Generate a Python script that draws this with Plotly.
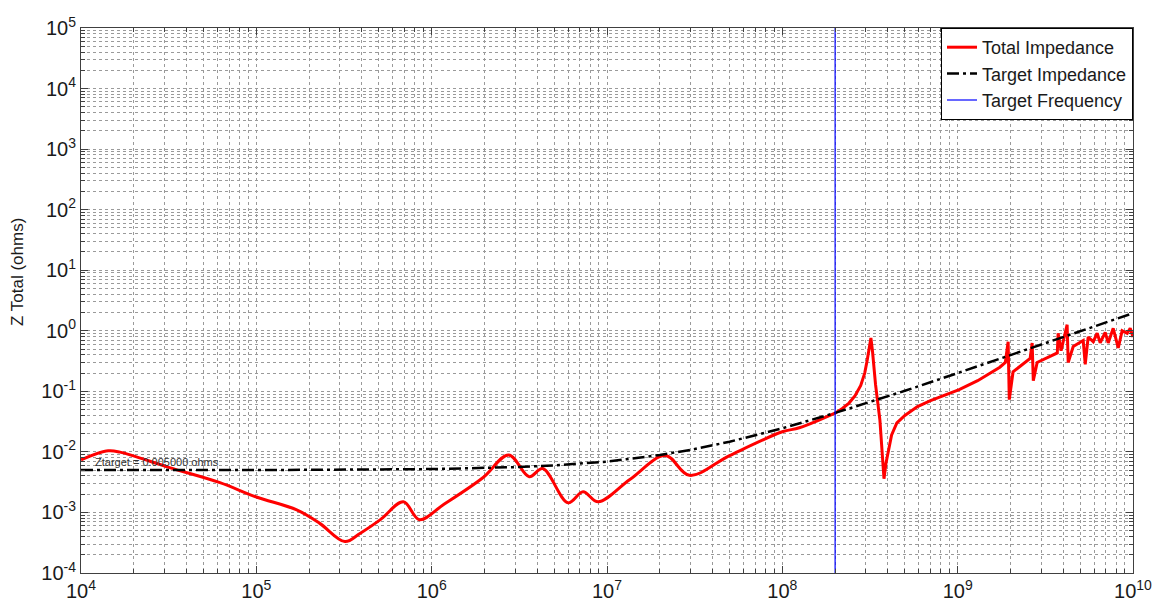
import numpy as np
import plotly.graph_objects as go

# ---- data ----
# Total impedance: smooth low/mid-frequency part
f_total_smooth = [1e4, 1.43e4, 1.67e4, 3.2e4, 6.2e4, 1e5, 1.7e5, 2.3e5, 3.2e5, 3.9e5, 5.1e5,
                  6.9e5, 8.5e5, 1.17e6, 1.95e6, 2.75e6, 3.6e6, 4.3e6, 6.0e6, 7.3e6, 8.9e6,
                  1.35e7, 2.15e7, 2.95e7, 5.0e7, 1e8, 1.25e8, 2.04e8]
z_total_smooth = [0.0074, 0.0104, 0.0099, 0.0055, 0.0031, 0.0018, 0.0011, 0.00066, 0.00033,
                  0.00045, 0.00076, 0.0015, 0.00076, 0.00135, 0.0037, 0.0089, 0.0039, 0.0053,
                  0.00144, 0.0022, 0.0015, 0.0035, 0.0087, 0.0041, 0.0087, 0.0215, 0.025, 0.045]

# Total impedance: resonant / high-frequency part
f_total_hf = [2.04e8, 2.2e8, 2.4e8, 2.6e8, 2.8e8, 2.95e8, 3.05e8, 3.12e8, 3.17e8, 3.2e8,
              3.27e8, 3.4e8, 3.6e8, 3.8e8, 3.9e8, 4.0e8,
              4.2e8, 4.5e8, 5.0e8, 5.9e8, 7.0e8, 1.02e9, 1.3e9, 1.74e9, 1.87e9, 1.94e9, 1.97e9,
              2.07e9, 2.59e9, 2.66e9, 2.70e9, 2.84e9, 3.70e9, 3.74e9, 3.89e9, 4.21e9, 4.27e9,
              4.56e9, 5.20e9, 5.34e9, 5.55e9, 5.93e9, 6.25e9, 6.50e9, 6.94e9, 7.22e9, 7.71e9,
              8.24e9, 8.67e9, 9.27e9, 9.64e9, 1e10]
z_total_hf = [0.045, 0.052, 0.064, 0.085, 0.125, 0.20, 0.33, 0.50, 0.68, 0.76,
              0.45, 0.13, 0.034, 0.0036, 0.0065, 0.0098,
              0.019, 0.030, 0.040, 0.056, 0.070, 0.107, 0.15, 0.25, 0.30, 0.66, 0.073,
              0.21, 0.35, 0.63, 0.15, 0.30, 0.43, 0.91, 0.47, 1.26, 0.30,
              0.55, 0.69, 0.28, 0.79, 0.66, 0.91, 0.63, 0.94, 0.63, 1.1,
              0.52, 1.0, 0.91, 1.1, 0.79]

# Target impedance
f_target = [1e4, 1e5, 1e6, 2e6, 3e6, 5e6, 1e7, 2e7, 3e7, 5e7, 1e8, 2e8, 5e8, 1e9, 2e9, 5e9, 1e10]
z_target = [0.005, 0.005, 0.0052, 0.0054, 0.0056, 0.006, 0.0069, 0.0089, 0.0108, 0.0147,
            0.0245, 0.044, 0.102, 0.20, 0.395, 0.98, 1.95]

# Target frequency
f_marker = 2e8

x_major = [1e4, 1e5, 1e6, 1e7, 1e8, 1e9, 1e10]
x_major_text = ["10<sup>4</sup>", "10<sup>5</sup>", "10<sup>6</sup>", "10<sup>7</sup>",
                "10<sup>8</sup>", "10<sup>9</sup>", "10<sup>10</sup>"]
y_major = [1e-4, 1e-3, 1e-2, 1e-1, 1e0, 1e1, 1e2, 1e3, 1e4, 1e5]
y_major_text = ["10<sup>-4</sup>", "10<sup>-3</sup>", "10<sup>-2</sup>", "10<sup>-1</sup>",
                "10<sup>0</sup>", "10<sup>1</sup>", "10<sup>2</sup>", "10<sup>3</sup>",
                "10<sup>4</sup>", "10<sup>5</sup>"]
x_minor = [m * 10.0 ** k for k in range(4, 10) for m in range(2, 10)]
y_minor = [m * 10.0 ** k for k in range(-4, 5) for m in range(2, 10)]

ztarget_label = "Ztarget = 0.005000 ohms"

# ---- figure ----
FONT = "Liberation Sans, Arial, Helvetica, sans-serif"
fig = go.Figure()

fig.add_trace(go.Scatter(x=f_total_smooth, y=z_total_smooth, mode="lines",
                         name="Total Impedance", legendgroup="tot",
                         line=dict(color="#ff0000", width=3, shape="spline", smoothing=1.0)))
fig.add_trace(go.Scatter(x=f_total_hf, y=z_total_hf, mode="lines",
                         name="Total Impedance", legendgroup="tot", showlegend=False,
                         line=dict(color="#ff0000", width=3)))
fig.add_trace(go.Scatter(x=f_target, y=z_target, mode="lines", name="Target Impedance",
                         line=dict(color="#000000", width=2.5, dash="12px,4px,3px,4px")))
fig.add_trace(go.Scatter(x=[f_marker, f_marker], y=[1e-4, 1e5], mode="lines",
                         name="Target Frequency", line=dict(color="#0000ff", width=1.2)))

grid_col = "#9a9a9a"
axis_common = dict(
    type="log", showline=True, linecolor="#404040", linewidth=1, mirror="ticks",
    ticks="inside", ticklen=7, tickcolor="#404040", automargin=False,
    showgrid=True, gridcolor=grid_col, griddash="dot", gridwidth=1,
    tickfont=dict(family=FONT, size=20, color="#1a1a1a"),
    zeroline=False,
)

fig.update_xaxes(**axis_common, range=[4, 10], tickvals=x_major, ticktext=x_major_text,
                 minor=dict(tickvals=x_minor, ticks="inside", ticklen=4, tickcolor="#404040",
                            showgrid=True, gridcolor=grid_col, griddash="dot", gridwidth=1))
fig.update_yaxes(**axis_common, range=[-4, 5], tickvals=y_major, ticktext=y_major_text,
                 minor=dict(tickvals=y_minor, ticks="inside", ticklen=4, tickcolor="#404040",
                            showgrid=True, gridcolor=grid_col, griddash="dot", gridwidth=1))

fig.add_annotation(x=np.log10(1.17e4), y=np.log10(0.0069), xref="x", yref="y",
                   text=ztarget_label, showarrow=False, xanchor="left", yanchor="middle",
                   font=dict(family=FONT, size=11, color="#333333"))

# page body has an 8px margin: figure is placed at (8, 8)
fig.add_annotation(x=(9 - 73) / 1052, y=(565 - 264) / 545, xref="paper", yref="paper",
                   text="Z Total (ohms)", textangle=-90, showarrow=False,
                   xanchor="center", yanchor="middle",
                   font=dict(family=FONT, size=17, color="#1a1a1a"))

fig.update_layout(
    width=1152, height=593,
    margin=dict(l=73, r=27, t=20, b=28),
    paper_bgcolor="white", plot_bgcolor="white",
    font=dict(family=FONT, color="#1a1a1a"),
    legend=dict(x=1, y=1, xanchor="right", yanchor="top",
                bgcolor="white", bordercolor="#000000", borderwidth=1,
                font=dict(family=FONT, size=18, color="#1a1a1a"),
                tracegroupgap=0, itemwidth=30),
    showlegend=True,
)

fig.write_html("out.html")
